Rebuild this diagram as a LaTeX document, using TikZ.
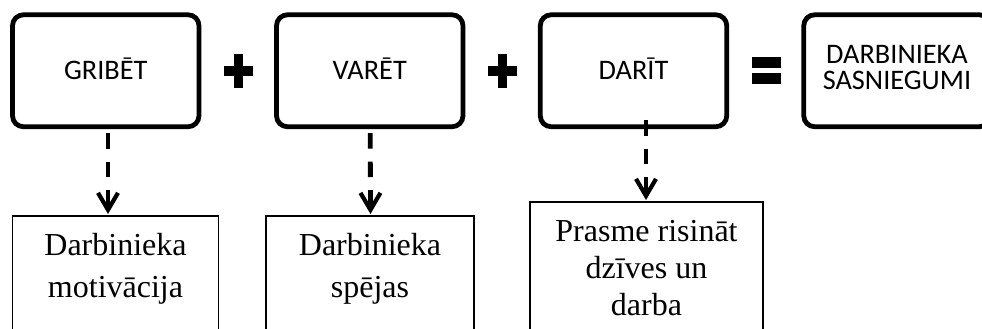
\documentclass[tikz,border=0pt]{standalone}
\usepackage{fontspec}
\setmainfont{Liberation Serif}
\newfontfamily\stagefont{Carlito}
\usetikzlibrary{arrows.meta,calc}
\begin{document}
\begin{tikzpicture}[x=1pt,y=-1pt,
  stage/.style={draw, line width=4.8pt, rounded corners=11pt,
    minimum width=186.5pt, minimum height=112pt, inner sep=0pt, outer sep=0pt,
    font=\stagefont\fontsize{28.3}{26}\selectfont,
    text height=17.6pt, text depth=0pt},
  stagetext/.style={inner sep=0pt, align=center,
    font=\stagefont\fontsize{28.3}{26}\selectfont},
  result/.style={draw, line width=1.3pt, minimum height=150pt,
    anchor=north, inner sep=0pt, outer sep=0pt},
  resulttext/.style={inner sep=0pt, align=center, anchor=base},
  link/.style={line width=4.8pt, dash pattern=on 15.5pt off 13pt,
    -{Straight Barb[length=17pt,width=20pt,line width=4.2pt]}},
  sign/.style={fill=black}]
  \clip (0,0) rectangle (982,329);

  % top row: the three factors and their result
  \node[stage] (gribet) at (105.75,70.75) {GRIBĒT};
  \node[stage] (varet)  at (369.75,70.75) {VARĒT};
  \node[stage] (darit)  at (633.5,70.75)  {DARĪT};
  \node[stage] (sasn)   at (897,70.75)    {};
  \node[stagetext] (sasntext) at (897,67.6) {DARBINIEKA\\SASNIEGUMI};

  % plus and equals signs
  \fill[sign] (234.3,54) rectangle (243.3,88.3);
  \fill[sign] (224.3,66) rectangle (253.3,76);
  \fill[sign] (497.5,54) rectangle (506.5,88.3);
  \fill[sign] (487.5,66) rectangle (516.5,76);
  \fill[sign] (751.7,57.3) rectangle (781,68.3);
  \fill[sign] (751.7,73.3) rectangle (781,84.3);

  % bottom row: what each factor stands for
  \node[result, minimum width=205.6pt] (motiv)  at (115.5,216) {};
  \node[result, minimum width=208pt]   (spejas) at (370,216)   {};
  \node[result, minimum width=233pt]   (prasme) at (646.5,202) {};

  % the base anchor sits on the last line of each text
  \node[resulttext, font=\fontsize{32}{41.6}\selectfont] (motivtext)
    at ($(motiv.north)+(0,81.3)$) {Darbinieka\\motivācija};
  \node[resulttext, font=\fontsize{32}{41.6}\selectfont] (spejastext)
    at ($(spejas.north)+(0,81.3)$) {Darbinieka\\spējas};
  \node[resulttext, font=\fontsize{32}{36.7}\selectfont] (prasmetext)
    at ($(prasme.north)+(0,113.1)$) {Prasme risināt\\dzīves un\\darba};

  % dashed links from each factor down to its meaning
  \draw[link] ($(gribet.south)+(2.25,6.3)$) -- ($(motiv.north)+(-7.5,-2)$);
  \draw[link] ($(varet.south)+(0.5,6.3)$)   -- ($(spejas.north)+(0.5,-2)$);
  \draw[link] ($(darit.south)+(12.5,-6.75)$) -- ($(prasme.north)+(-0.5,-2)$);
\end{tikzpicture}
\end{document}
